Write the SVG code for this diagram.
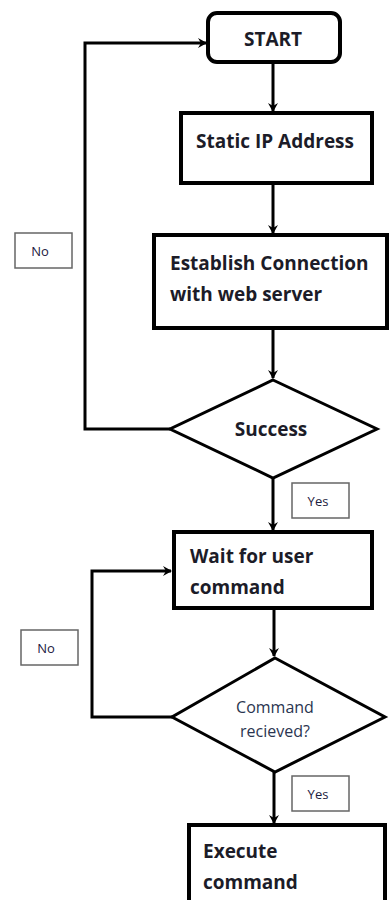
<svg xmlns="http://www.w3.org/2000/svg" width="390" height="900" viewBox="0 0 390 900">
<defs>
<marker id="ah" markerWidth="10" markerHeight="10" refX="8" refY="5" orient="auto" markerUnits="userSpaceOnUse">
<path d="M0,0 L9,5 L0,10 L3,5 Z" fill="#000"/>
</marker>
<style>
.box{fill:#fff;stroke:#000;stroke-width:4}
.dia{fill:#fff;stroke:#000;stroke-width:3}
.lbl{fill:#fff;stroke:#666;stroke-width:1.5}
.t{font-family:"Open Sans","Liberation Sans",sans-serif;font-weight:bold;font-size:19px;fill:#1c1c28}
.ts{font-family:"Open Sans","Liberation Sans",sans-serif;font-size:13px;fill:#1c2040}
.tsm{font-family:"Open Sans","Liberation Sans",sans-serif;font-size:16px;fill:#2a3550}
.c{fill:none;stroke:#000;stroke-width:3}
</style>
</defs>
<rect width="390" height="900" fill="#fff"/>
<g id="connectors">
<path class="c" d="M273,62 L273,111" marker-end="url(#ah)"/>
<path class="c" d="M273,183 L273,233" marker-end="url(#ah)"/>
<path class="c" d="M273,328 L273,378" marker-end="url(#ah)"/>
<path class="c" d="M170,429 L85,429 L85,43 L206,43" marker-end="url(#ah)"/>
<path class="c" d="M273,478 L273,530" marker-end="url(#ah)"/>
<path class="c" d="M274,608 L274,656" marker-end="url(#ah)"/>
<path class="c" d="M172,717 L92,717 L92,571 L171,571" marker-end="url(#ah)"/>
<path class="c" d="M274,772 L274,823" marker-end="url(#ah)"/>
</g>
<g id="start">
<rect class="box" x="208" y="13" width="132" height="49" rx="9" stroke-width="3"/>
<text class="t" x="273" y="46" text-anchor="middle">START</text>
</g>
<g id="static-ip">
<rect class="box" x="181" y="113" width="191" height="70"/>
<text class="t" x="275" y="148" text-anchor="middle">Static IP Address</text>
</g>
<g id="establish">
<rect class="box" x="154" y="235" width="233" height="93"/>
<text class="t" x="170" y="270">Establish Connection</text>
<text class="t" x="170" y="301">with web server</text>
</g>
<g id="success">
<polygon class="dia" points="273,380 377,429 273,478 170,429"/>
<text class="t" x="271" y="436" text-anchor="middle">Success</text>
</g>
<g id="no1">
<rect class="lbl" x="15" y="233" width="57" height="35"/>
<text class="ts" x="40" y="256" text-anchor="middle">No</text>
</g>
<g id="yes1">
<rect class="lbl" x="292" y="483" width="57" height="35"/>
<text class="ts" x="318" y="506" text-anchor="middle">Yes</text>
</g>
<g id="wait">
<rect class="box" x="174" y="532" width="198" height="76"/>
<text class="t" x="190" y="563">Wait for user</text>
<text class="t" x="190" y="594">command</text>
</g>
<g id="no2">
<rect class="lbl" x="21" y="630" width="57" height="35"/>
<text class="ts" x="46" y="653" text-anchor="middle">No</text>
</g>
<g id="received">
<polygon class="dia" points="275,658 385,717 275,772 172,717"/>
<text class="tsm" x="275" y="713" text-anchor="middle">Command</text>
<text class="tsm" x="275" y="737" text-anchor="middle">recieved?</text>
</g>
<g id="yes2">
<rect class="lbl" x="292" y="776" width="57" height="35"/>
<text class="ts" x="318" y="799" text-anchor="middle">Yes</text>
</g>
<g id="execute">
<rect class="box" x="189" y="825" width="196" height="90"/>
<text class="t" x="203" y="858">Execute</text>
<text class="t" x="203" y="889">command</text>
</g>
</svg>
